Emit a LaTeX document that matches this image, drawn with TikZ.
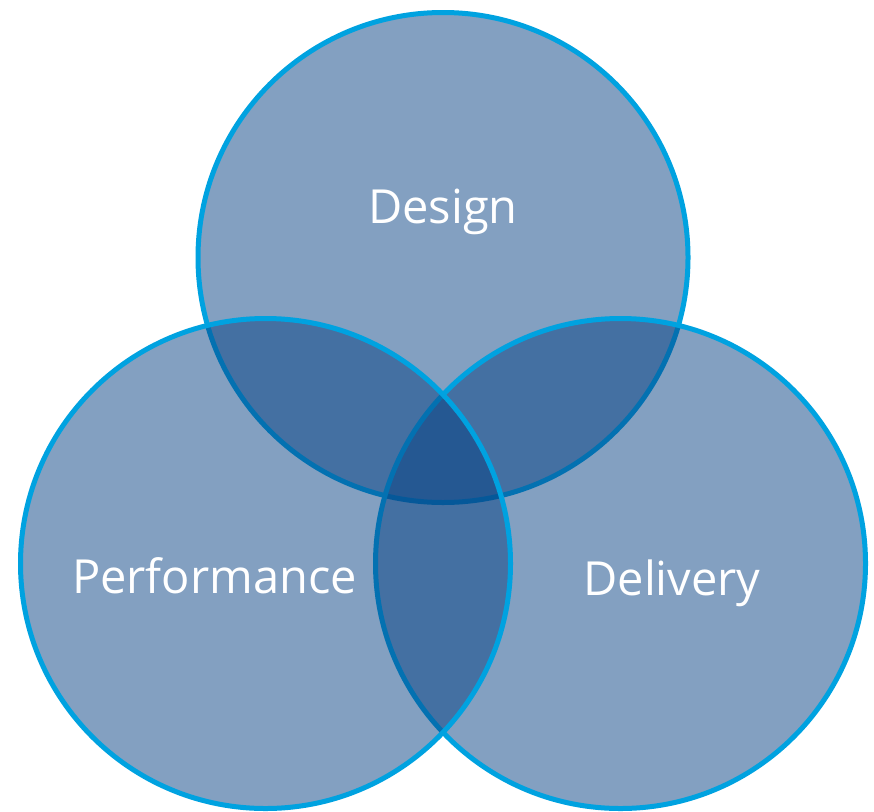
\documentclass[tikz,border=0pt]{standalone}
\usepackage{fontspec}
\setmainfont{Open Sans}
\definecolor{vfill}{RGB}{7,65,131}
\definecolor{vline}{RGB}{0,162,224}
\begin{document}
\begin{tikzpicture}[x=1pt,y=-1pt,
  vcircle/.style={circle, draw=vline, line width=5pt, fill=vfill, fill opacity=0.5, draw opacity=1, minimum size=490pt, inner sep=0pt},
  vlabel/.style={text=white, anchor=base, font=\fontsize{47}{56}\selectfont, inner sep=0pt}]
\useasboundingbox (0,0) rectangle (874,811);
\node[vcircle] (design) at (443,257.5) {};
\node[vcircle] (delivery) at (620.5,563.5) {};
\node[vcircle] (performance) at (265.5,563.5) {};
\node[vlabel] (tdesign) at (443,223) {Design};
\node[vlabel] (tperf) at (214.5,593) {Performance};
\node[vlabel] (tdel) at (672,595) {Delivery};
\end{tikzpicture}
\end{document}
